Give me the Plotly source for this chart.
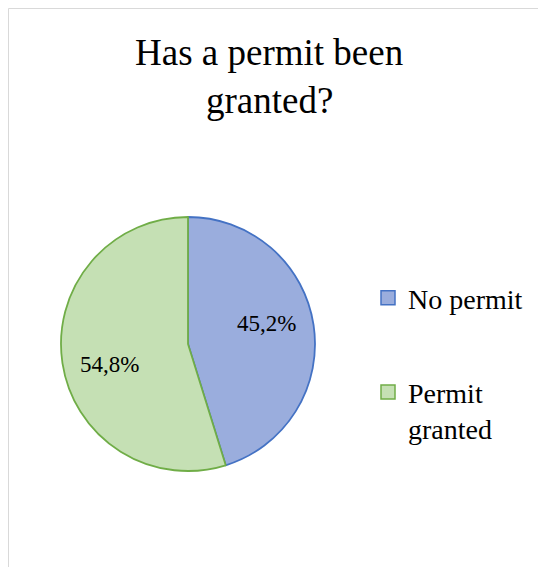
import math
import plotly.graph_objects as go

# Survey answers: has a permit been granted?
categories = ["No permit", "Permit granted"]
shares = [45.2, 54.8]
title_lines = ["Has a permit been", "granted?"]
legend_texts = ["No permit", "Permit<br>granted"]

fill_colors = ["#9AADDD", "#C5E0B4"]
edge_colors = ["#4472C4", "#70AD47"]

W, H = 538, 567
FONT = "Liberation Serif"

# pie placement in pixels
CX, CY, R = 188, 344, 127
LABEL_R = 0.64          # label distance from centre, as a fraction of the radius
LABEL_TURN = -6.0       # small angular nudge for label placement, degrees

fig = go.Figure()

fig.add_trace(go.Pie(
    labels=categories,
    values=shares,
    sort=False,
    direction="clockwise",
    rotation=0,
    marker=dict(colors=fill_colors, line=dict(color=edge_colors, width=1.8)),
    textinfo="none",
    showlegend=False,
    hoverinfo="label+percent",
    domain=dict(x=[(CX - R) / W, (CX + R) / W], y=[1 - (CY + R) / H, 1 - (CY - R) / H]),
))

# Legend entries (square swatches matching the slices)
for i, txt in enumerate(legend_texts):
    fig.add_trace(go.Scatter(
        x=[None], y=[None], mode="markers", name=txt,
        legendgroup=f"g{i}",
        marker=dict(symbol="square", size=14, color=fill_colors[i],
                    line=dict(color=edge_colors[i], width=1.5)),
    ))

annotations = []
for j, line in enumerate(title_lines):
    annotations.append(dict(
        text=line, xref="paper", yref="paper", x=269 / W, y=1 - (53 + 47 * j) / H,
        xanchor="center", yanchor="middle", showarrow=False,
        font=dict(family=FONT, size=37, color="#000000"),
    ))

# percentage labels placed along each slice's mid-angle
total = sum(shares)
start = 0.0
for v in shares:
    mid = math.radians((start + v / 2) / total * 360 + LABEL_TURN)
    start += v
    px = CX + LABEL_R * R * math.sin(mid)
    py = CY - LABEL_R * R * math.cos(mid)
    annotations.append(dict(
        text=f"{v / total * 100:.1f}%".replace(".", ","),
        xref="paper", yref="paper", x=px / W, y=1 - py / H,
        xanchor="center", yanchor="middle", showarrow=False,
        font=dict(family=FONT, size=23, color="#000000"),
    ))

fig.update_layout(
    width=W, height=H,
    margin=dict(l=0, r=0, t=0, b=0),
    paper_bgcolor="#FFFFFF",
    plot_bgcolor="#FFFFFF",
    xaxis=dict(visible=False),
    yaxis=dict(visible=False),
    annotations=annotations,
    legend=dict(
        x=368 / W, y=1 - 273 / H, xanchor="left", yanchor="top",
        font=dict(family=FONT, size=28, color="#000000"),
        tracegroupgap=55, valign="top",
        bgcolor="rgba(0,0,0,0)",
    ),
    shapes=[dict(
        type="rect", xref="paper", yref="paper",
        x0=8.5 / W, x1=1.2, y0=-0.2, y1=1 - 8.5 / H,
        line=dict(color="#D9D9D9", width=1), fillcolor="rgba(0,0,0,0)",
        layer="below",
    )],
)

fig.write_html("out.html")
